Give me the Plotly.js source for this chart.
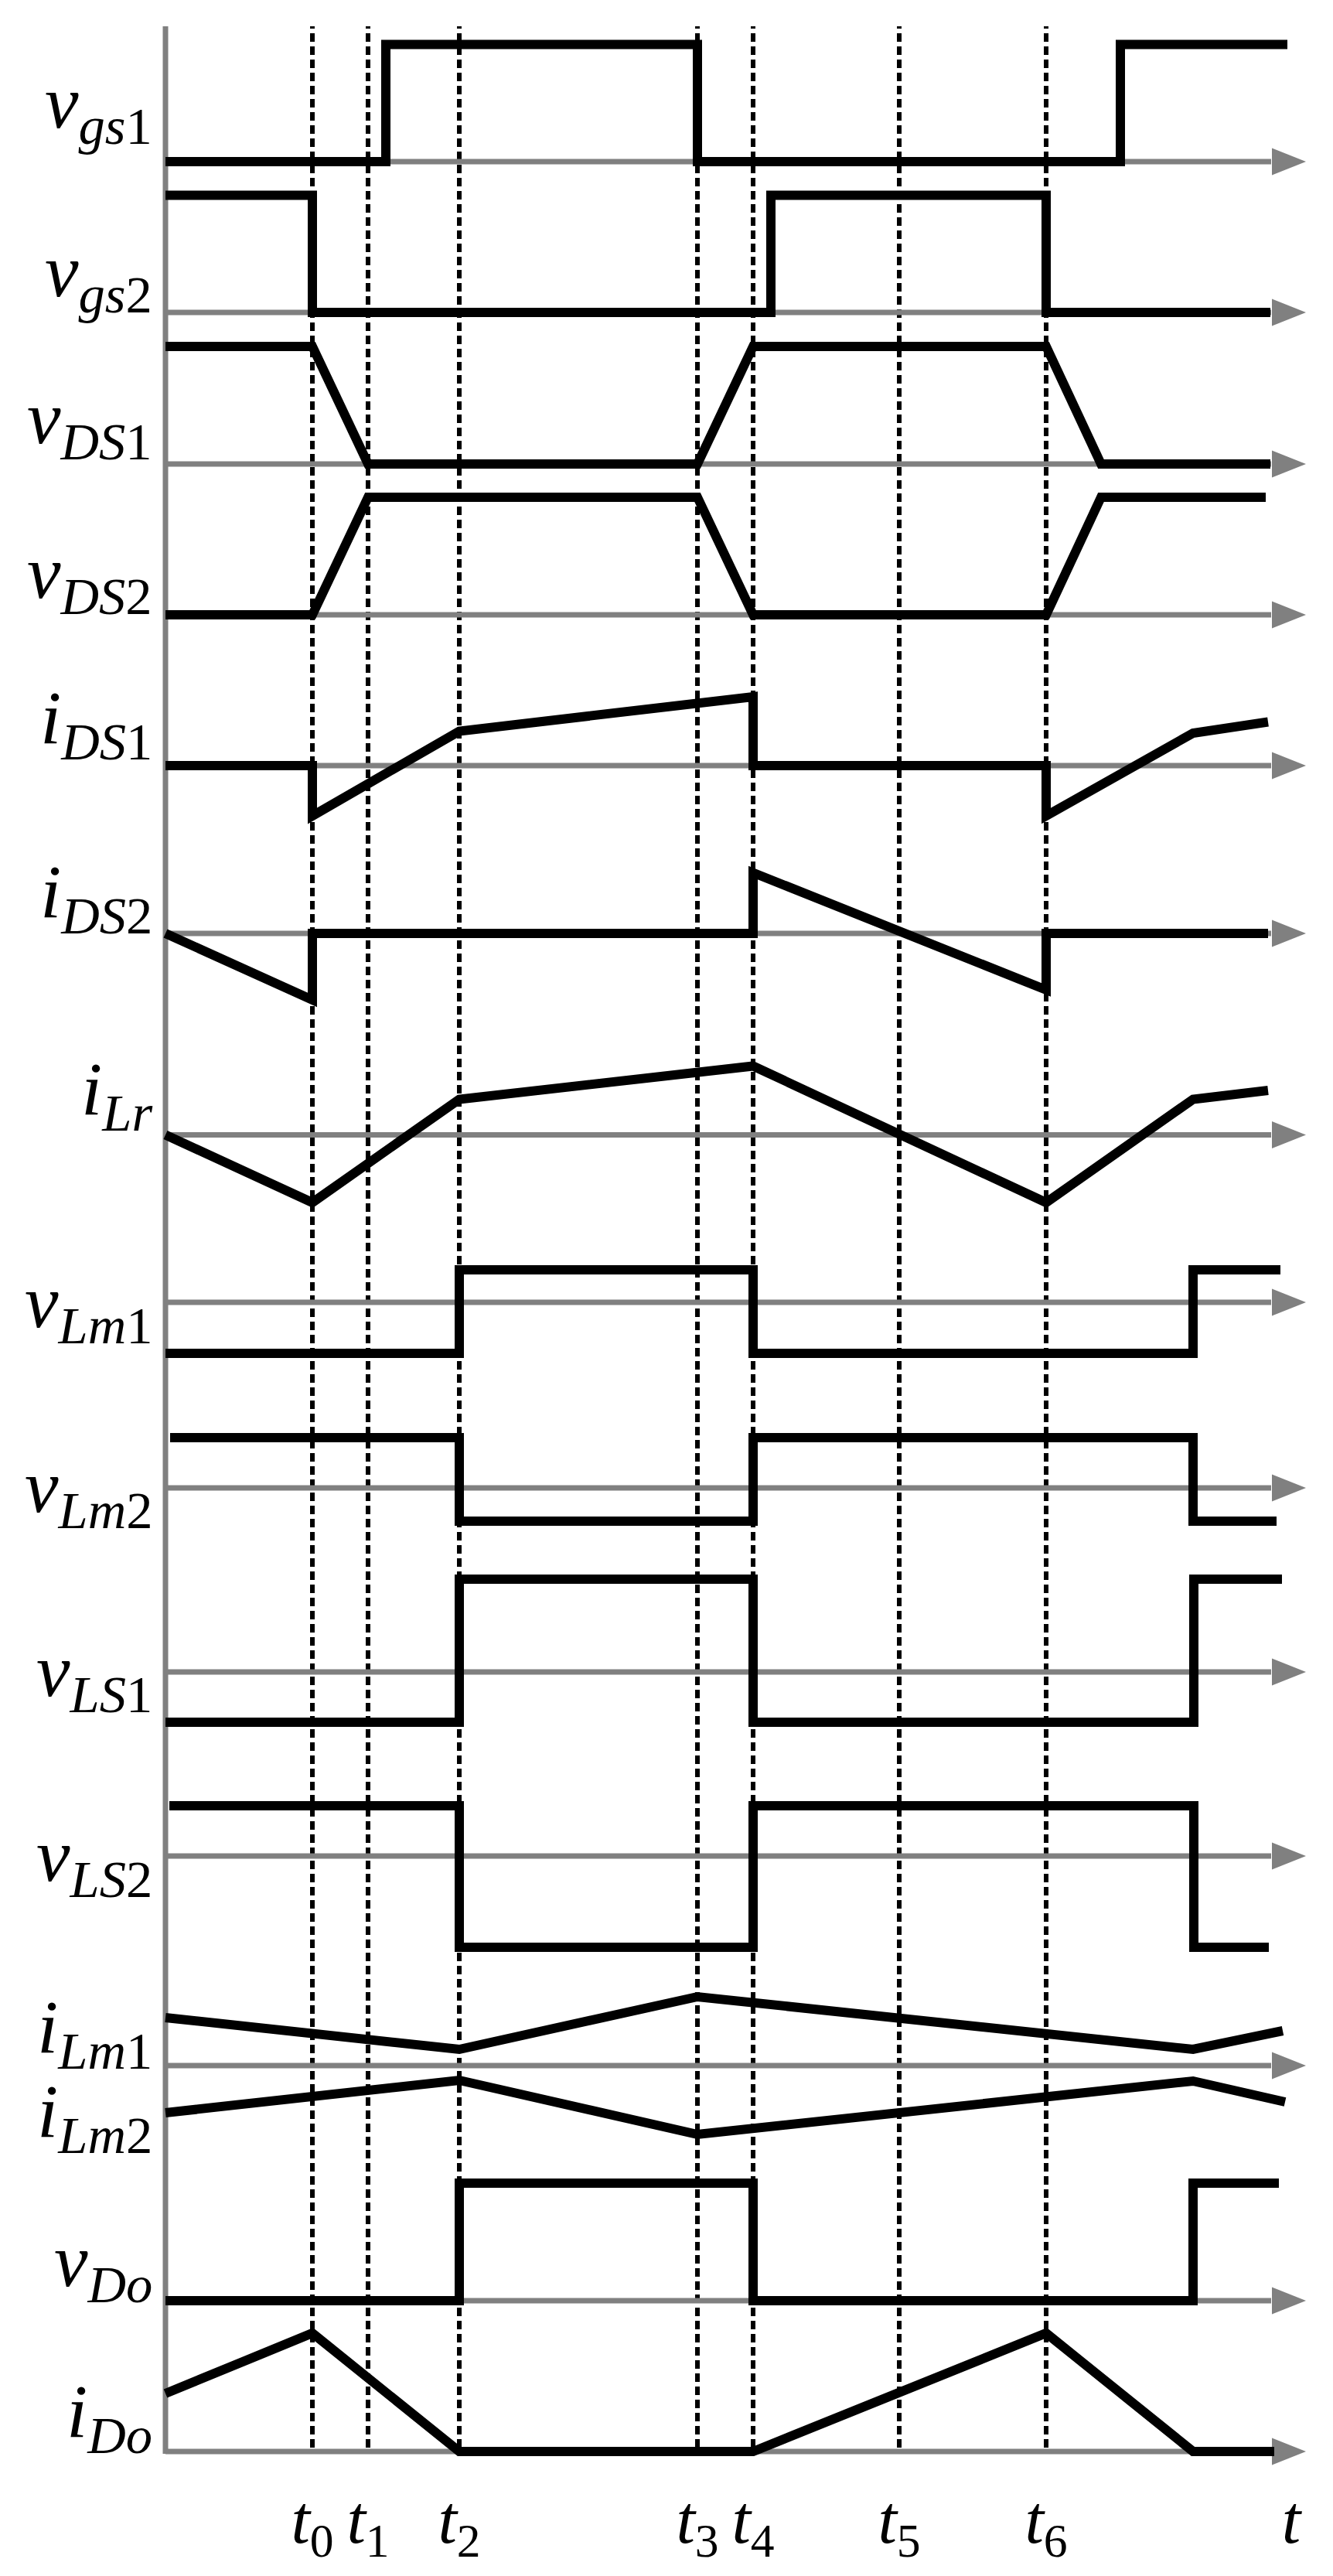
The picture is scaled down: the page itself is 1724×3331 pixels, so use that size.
<!DOCTYPE html>
<html>
<head>
<meta charset="utf-8">
<script src="https://cdn.plot.ly/plotly-3.0.1.min.js"></script>
<style>html,body{margin:0;padding:0;background:#fff;}</style>
</head>
<body>
<div id="chart" style="width:1724px;height:3331px;"></div>
<script>
// ---------- DATA (time in arbitrary units, amplitudes in arbitrary units, baseline = 0) ----------
const tEvents   = [1.90, 2.62, 3.80, 6.88, 7.60, 9.49, 11.39];
const tickTexts = ['<i>t</i><sub>0</sub>','<i>t</i><sub>1</sub>','<i>t</i><sub>2</sub>','<i>t</i><sub>3</sub>','<i>t</i><sub>4</sub>','<i>t</i><sub>5</sub>','<i>t</i><sub>6</sub>'];
const tAxisPos  = 14.56;
const tAxisText = '<i>t</i>';

const vgs1_t = [0, 2.85, 2.85, 6.88, 6.88, 12.35, 12.35, 14.51];
const vgs1_v = [0, 0, 1.515, 1.515, 0, 0, 1.515, 1.515];

const vgs2_t = [0, 1.90, 1.90, 7.83, 7.83, 11.39, 11.39, 14.29];
const vgs2_v = [1.515, 1.515, 0, 0, 1.515, 1.515, 0, 0];

const vDS1_t = [0, 1.90, 2.62, 6.88, 7.60, 11.39, 12.10, 14.29];
const vDS1_v = [1.52, 1.52, 0, 0, 1.52, 1.52, 0, 0];

const vDS2_t = [0, 1.90, 2.62, 6.88, 7.60, 11.39, 12.10, 14.23];
const vDS2_v = [0, 0, 1.52, 1.52, 0, 0, 1.52, 1.52];

const iDS1_t = [0, 1.90, 1.90, 3.80, 7.60, 7.60, 11.39, 11.39, 13.29, 14.26];
const iDS1_v = [0, 0, -0.65, 0.445, 0.89, 0, 0, -0.65, 0.42, 0.565];

const iDS2_t = [0, 1.90, 1.90, 7.60, 7.60, 11.39, 11.39, 14.26];
const iDS2_v = [0, -0.86, 0, 0, 0.785, -0.73, 0, 0];

const iLr_t = [0, 1.90, 3.80, 7.60, 11.39, 13.29, 14.26];
const iLr_v = [0, -0.875, 0.46, 0.89, -0.875, 0.46, 0.575];

const vLm1_t = [0, 3.80, 3.80, 7.60, 7.60, 13.29, 13.29, 14.42];
const vLm1_v = [-0.66, -0.66, 0.42, 0.42, -0.66, -0.66, 0.42, 0.42];

const vLm2_t = [0.06, 3.80, 3.80, 7.60, 7.60, 13.29, 13.29, 14.37];
const vLm2_v = [0.65, 0.65, -0.43, -0.43, 0.65, 0.65, -0.43, -0.43];

const vLS1_t = [0, 3.80, 3.80, 7.60, 7.60, 13.30, 13.30, 14.44];
const vLS1_v = [-0.65, -0.65, 1.20, 1.20, -0.65, -0.65, 1.20, 1.20];

const vLS2_t = [0.05, 3.80, 3.80, 7.60, 7.60, 13.30, 13.30, 14.27];
const vLS2_v = [0.65, 0.65, -1.18, -1.18, 0.65, 0.65, -1.18, -1.18];

const iLm1_t = [0, 3.80, 6.88, 13.29, 14.45];
const iLm1_v = [0.62, 0.21, 0.89, 0.21, 0.45];

const iLm2_t = [0, 3.80, 6.88, 13.29, 14.48];
const iLm2_v = [-0.61, -0.19, -0.89, -0.20, -0.47];

const vDo_t = [0, 3.80, 3.80, 7.60, 7.60, 13.29, 13.29, 14.40];
const vDo_v = [0, 0, 1.52, 1.52, 0, 0, 1.52, 1.52];

const iDo_t = [0, 1.90, 3.80, 7.60, 11.39, 13.29, 14.34];
const iDo_v = [0.75, 1.53, 0, 0, 1.53, 0, 0];

// ---------- LAYOUT CONFIG ----------
const W = 1724, H = 3331;
const UNIT = 100;              // px per data unit (x and y)
const XL = 204, XR = 1695;     // plot domain in px
const XMIN = -0.1, XMAX = XMIN + (XR - XL) / UNIT;
const GRAY = '#808080';
const FONT = "'Liberation Serif', 'Times New Roman', serif";
const ARROW_BASE = 14.30, ARROW_TIP = 14.75;
const LABEL_SHIFT = -15;

const rows = [
  {base: 209,  traces: [[vgs1_t, vgs1_v]], lab: ['<i>v</i><sub><i>gs</i>1</sub>'], ly: [155]},
  {base: 404,  traces: [[vgs2_t, vgs2_v]], lab: ['<i>v</i><sub><i>gs</i>2</sub>'], ly: [372]},
  {base: 600,  traces: [[vDS1_t, vDS1_v]], lab: ['<i>v</i><sub><i>DS</i>1</sub>'], ly: [563]},
  {base: 795,  traces: [[vDS2_t, vDS2_v]], lab: ['<i>v</i><sub><i>DS</i>2</sub>'], ly: [762]},
  {base: 990,  traces: [[iDS1_t, iDS1_v]], lab: ['<i>i</i><sub><i>DS</i>1</sub>'], ly: [950]},
  {base: 1207, traces: [[iDS2_t, iDS2_v]], lab: ['<i>i</i><sub><i>DS</i>2</sub>'], ly: [1175]},
  {base: 1467.5, traces: [[iLr_t, iLr_v]], lab: ['<i>i</i><sub><i>Lr</i></sub>'], ly: [1430]},
  {base: 1684, traces: [[vLm1_t, vLm1_v]], lab: ['<i>v</i><sub><i>Lm</i>1</sub>'], ly: [1705]},
  {base: 1924, traces: [[vLm2_t, vLm2_v]], lab: ['<i>v</i><sub><i>Lm</i>2</sub>'], ly: [1944]},
  {base: 2162, traces: [[vLS1_t, vLS1_v]], lab: ['<i>v</i><sub><i>LS</i>1</sub>'], ly: [2182]},
  {base: 2400, traces: [[vLS2_t, vLS2_v]], lab: ['<i>v</i><sub><i>LS</i>2</sub>'], ly: [2421]},
  {base: 2671, traces: [[iLm1_t, iLm1_v], [iLm2_t, iLm2_v]], lab: ['<i>i</i><sub><i>Lm</i>1</sub>', '<i>i</i><sub><i>Lm</i>2</sub>'], ly: [2643, 2752]},
  {base: 2975, traces: [[vDo_t, vDo_v]], lab: ['<i>v</i><sub><i>Do</i></sub>'], ly: [2945]},
  {base: 3170, traces: [[iDo_t, iDo_v]], lab: ['<i>i</i><sub><i>Do</i></sub>'], ly: [3140]}
];

const AXIS_TOP = 34, AXIS_BOTTOM = 3173, DOT_BOTTOM = 3165;
const py = p => 1 - p / H;
const px = p => p / W;

const data = [];
const shapes = [];
const annotations = [];
const layout = {
  width: W, height: H,
  margin: {l: 0, r: 0, t: 0, b: 0},
  paper_bgcolor: '#fff', plot_bgcolor: 'rgba(0,0,0,0)',
  showlegend: false,
  hovermode: false,
  font: {family: FONT, color: '#000'},
  xaxis: {
    domain: [px(XL), px(XR)], range: [XMIN, XMAX],
    showgrid: false, zeroline: false, showline: false, ticks: '',
    tickvals: tEvents.concat([tAxisPos]),
    ticktext: tickTexts.concat([tAxisText]),
    tickfont: {family: FONT, size: 88, color: '#000'},
    ticklabelstandoff: 4,
    anchor: 'y' + rows.length, fixedrange: true
  }
};

// vertical axis (gray)
shapes.push({type: 'line', xref: 'x', yref: 'paper', x0: 0, x1: 0, y0: py(AXIS_BOTTOM), y1: py(AXIS_TOP),
  line: {color: GRAY, width: 7}, layer: 'below'});

rows.forEach((r, i) => {
  const n = i + 1;
  const yid = n === 1 ? 'y' : 'y' + n;
  const yname = n === 1 ? 'yaxis' : 'yaxis' + n;
  let lo = 0, hi = 0;
  r.traces.forEach(([tx, ty]) => { lo = Math.min(lo, ...ty); hi = Math.max(hi, ...ty); });
  lo -= 0.25; hi += 0.25;
  const topPx = r.base - hi * UNIT, botPx = r.base - lo * UNIT;
  layout[yname] = {domain: [py(botPx), py(topPx)], range: [lo, hi], visible: false, fixedrange: true};
  // gray baseline + arrow head
  shapes.push({type: 'line', xref: 'x', yref: yid, x0: 0, x1: ARROW_BASE, y0: 0, y1: 0,
    line: {color: GRAY, width: 7}, layer: 'below'});
  shapes.push({type: 'path', xref: 'x', yref: yid, xsizemode: 'pixel', ysizemode: 'pixel',
    xanchor: ARROW_TIP, yanchor: 0, path: 'M0,0L-44,17.5L-44,-17.5Z',
    fillcolor: GRAY, line: {width: 0}, layer: 'below'});
  r.traces.forEach(([tx, ty]) => {
    data.push({type: 'scatter', mode: 'lines', x: tx, y: ty, xaxis: 'x', yaxis: yid,
      line: {color: '#000', width: 12}, hoverinfo: 'skip'});
  });
  r.lab.forEach((txt, k) => {
    annotations.push({xref: 'paper', yref: 'paper', x: px(199), y: py(r.ly[k] + LABEL_SHIFT),
      xanchor: 'right', yanchor: 'middle', text: txt, showarrow: false,
      font: {family: FONT, size: 98, color: '#000'}});
  });
});

// dotted time markers
tEvents.forEach(t => {
  shapes.push({type: 'line', xref: 'x', yref: 'paper', x0: t, x1: t, y0: py(DOT_BOTTOM), y1: py(AXIS_TOP),
    line: {color: '#000', width: 6, dash: '11px,6px'}, layer: 'below'});
});

layout.shapes = shapes;
layout.annotations = annotations;

Plotly.newPlot('chart', data, layout, {displayModeBar: false, staticPlot: true});
</script>
</body>
</html>
